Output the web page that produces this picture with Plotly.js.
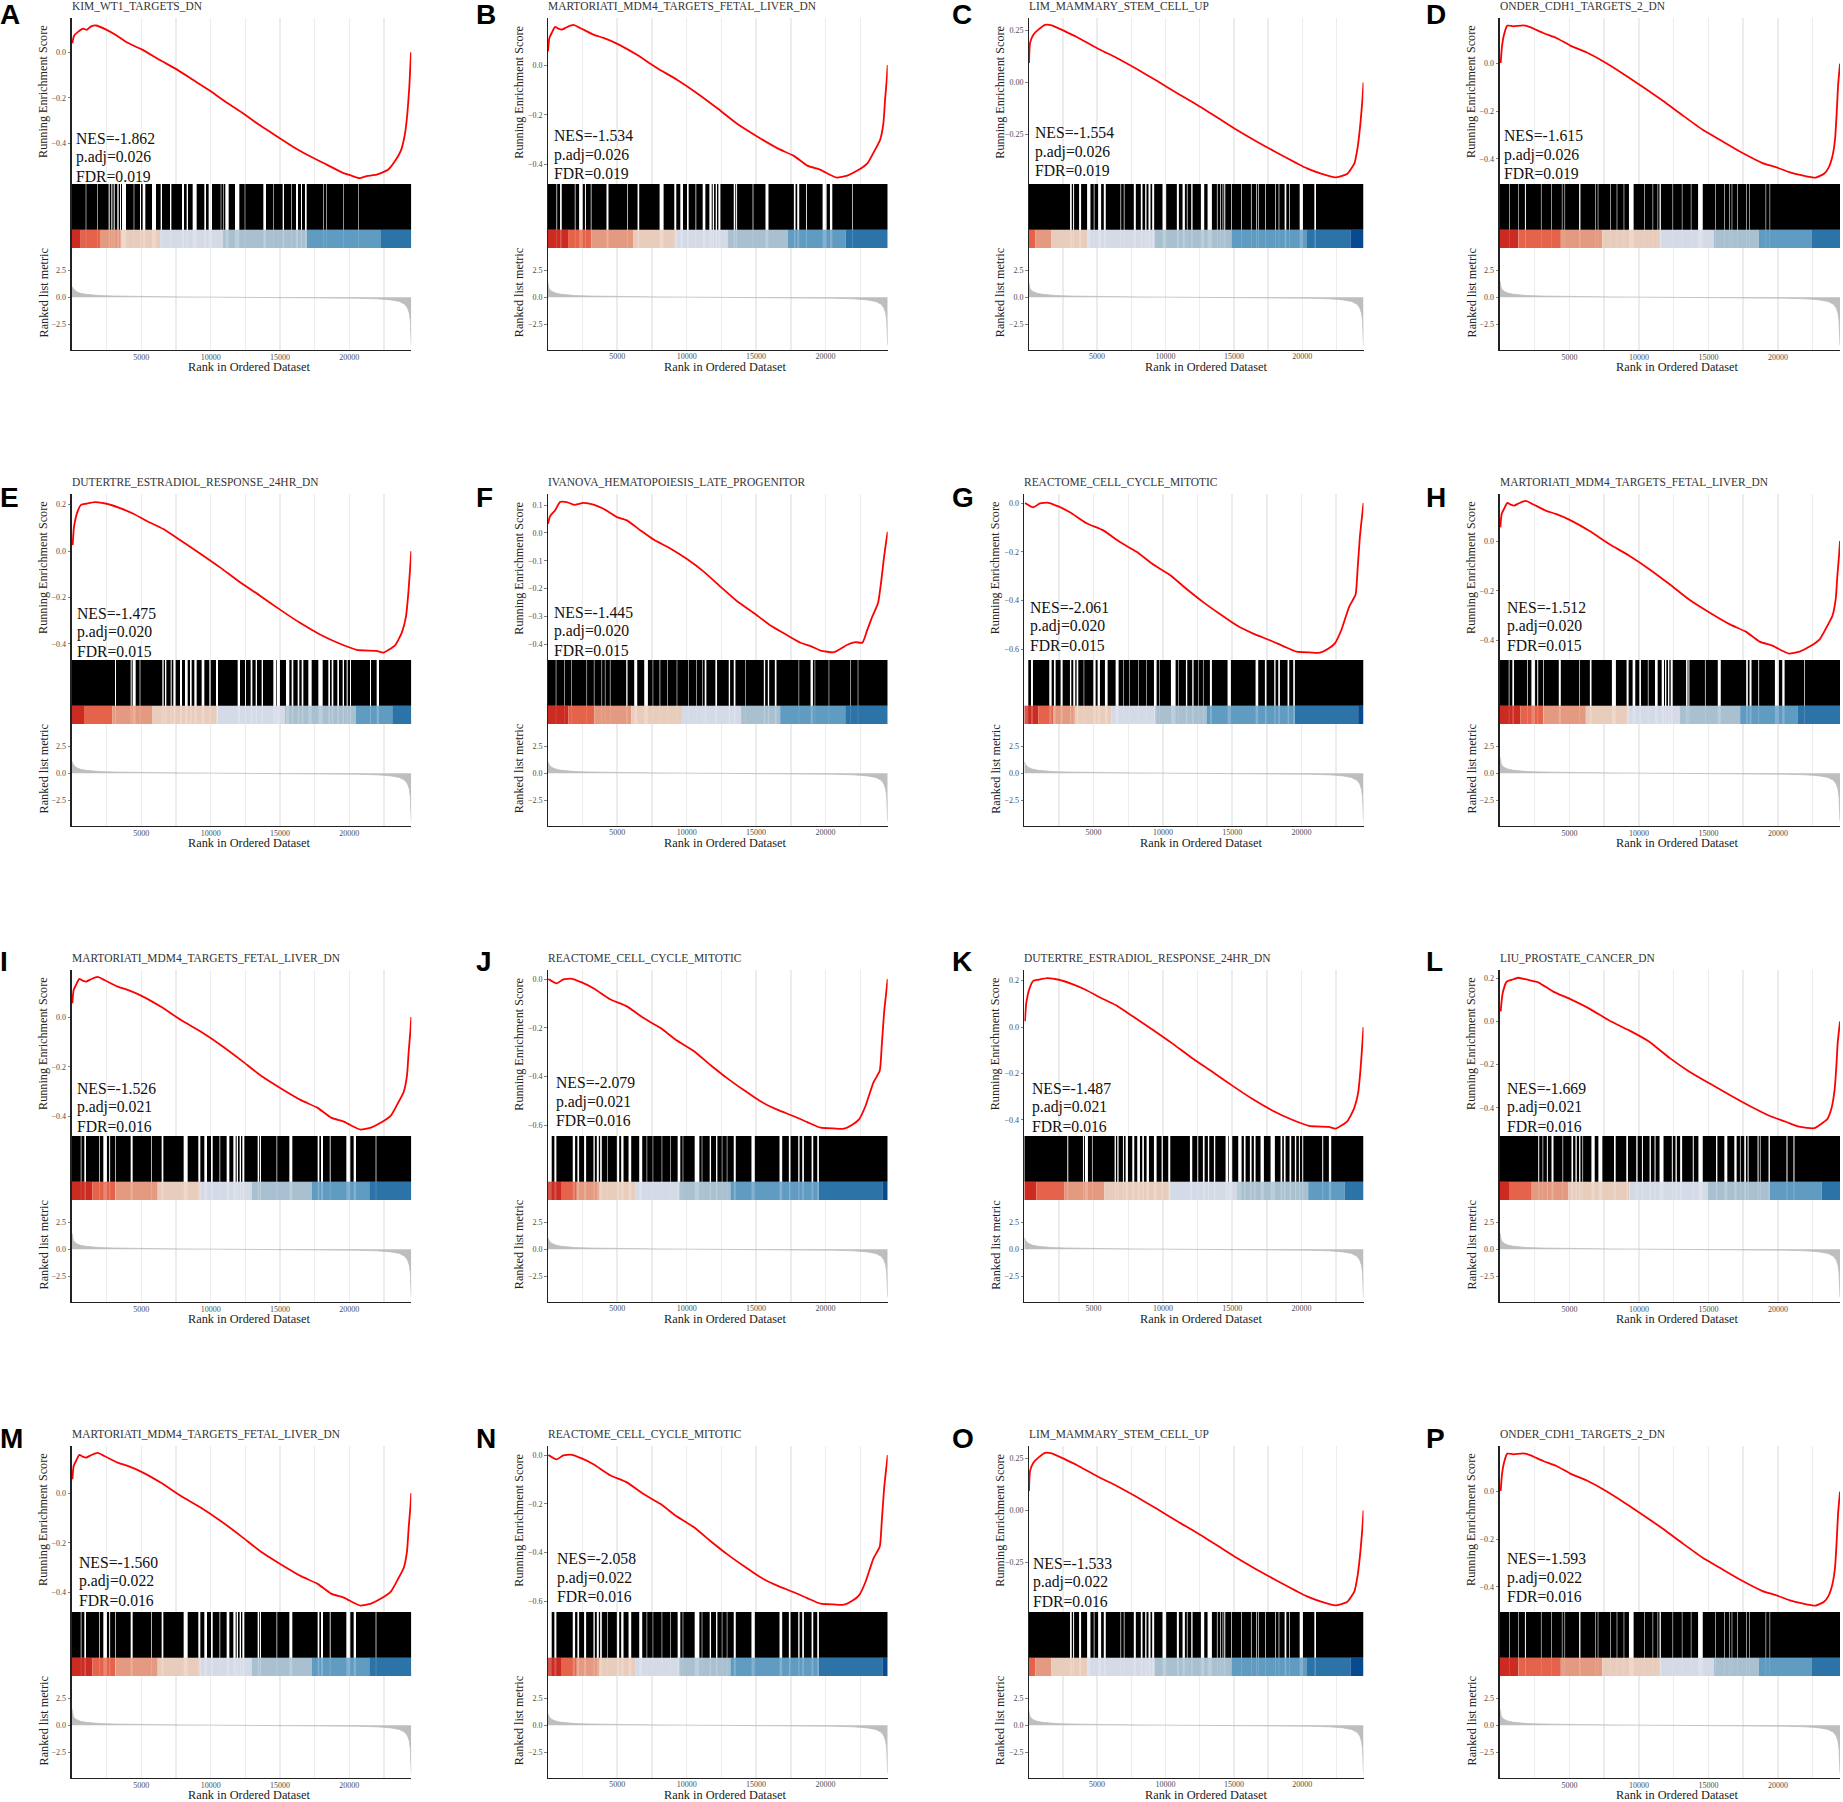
<!DOCTYPE html>
<html>
<head>
<meta charset="utf-8">
<script src="https://cdn.plot.ly/plotly-3.0.1.min.js"></script>
<style>
  html, body { margin: 0; padding: 0; background: #fff; }
</style>
</head>
<body>
<div id="chart" style="width:1843px;height:1802px"></div>
<script>
// Values.
const panelLetters = ['A','B','C','D','E','F','G','H','I','J','K','L','M','N','O','P'];
const panelNes = ['-1.862','-1.534','-1.554','-1.615','-1.475','-1.445','-2.061','-1.512','-1.526','-2.079','-1.487','-1.669','-1.560','-2.058','-1.533','-1.593'];
const panelPadj = ['0.026','0.026','0.026','0.026','0.020','0.020','0.020','0.020','0.021','0.021','0.021','0.021','0.022','0.022','0.022','0.022'];
const panelFdr = ['0.019','0.019','0.019','0.019','0.015','0.015','0.015','0.015','0.016','0.016','0.016','0.016','0.016','0.016','0.016','0.016'];
// which gene set each panel shows (index into geneSets)
const panelSet = [0,1,2,3, 4,5,6,1, 1,6,4,7, 1,6,2,3];

const kimRanks = [24,144,457,817,1058,1346,1731,2500,3221,3943,5024,6347,7549,8751,9953,11155,12357,13559,14761,15963,17165,18367,19569,20050,20723,21252,21973,22815,23296,23728,24017,24185,24329,24449];
const kimScores = [.04,.072,.091,.104,.099,.113,.118,.099,.074,.044,.013,-.034,-.075,-.122,-.169,-.221,-.269,-.321,-.369,-.416,-.457,-.494,-.531,-.54,-.553,-.544,-.538,-.515,-.478,-.431,-.357,-.269,-.151,0];
const kimGaps = [[990,1030],[1830,1870],[2644,2716],[2837,2909],[3005,3077],[3269,3366],[3462,3534],[3606,3894],[4450,4490],[4904,4976],[5096,5289],[5770,6058],[6395,6491],[7068,7164],[7933,8077],[8270,8366],[8702,8991],[9544,9664],[9856,10097],[10726,10766],[10894,10934],[11058,11299],[11756,12068],[12457,12497],[13799,13991],[14500,14540],[15193,15289],[15822,15862],[16155,16299],[16515,16587],[16803,16924],[18106,18146],[18347,18387],[19549,19589],[20630,20670]];
const kimBandEdges = [625,2019,3558,6346,10865,16923,22284,24470];

const mdmRanks = [24,120,288,529,769,1010,1370,1851,2332,3293,4015,4976,6419,7861,9303,10746,12188,13631,15073,16515,17717,18679,19641,20242,20795,21564,22285,23006,23487,23920,24160,24280,24400,24470];
const mdmScores = [.055,.109,.129,.153,.146,.142,.152,.161,.149,.122,.109,.086,.041,-.012,-.059,-.113,-.173,-.236,-.287,-.334,-.365,-.404,-.421,-.439,-.452,-.444,-.424,-.395,-.348,-.301,-.234,-.14,-.059,0];
const mdmGaps = [[630,680],[889,1010],[1950,2000],[2260,2524],[2680,2750],[3100,3150],[4231,4375],[5710,5760],[6467,6587],[8053,8342],[9111,9255],[9544,9736],[10025,10145],[10640,10690],[11155,11347],[11636,11804],[11876,11972],[12092,12188],[12284,12429],[13390,13500],[13560,13631],[14750,14800],[15674,15890],[17717,17838],[17958,18102],[18590,18650],[19785,20073],[20314,20482],[21900,21950]];
const mdmBandEdges = [1466,3125,6178,9255,12957,17284,21442,24470];

const limRanks = [24,98,341,707,1195,1683,2659,3512,4976,6439,7902,9366,10829,12293,13756,15219,16683,18146,19610,20341,21317,22414,23268,23805,24049,24244,24390,24470];
const limScores = [.093,.189,.229,.253,.276,.274,.245,.218,.165,.117,.064,.008,-.051,-.107,-.167,-.228,-.284,-.337,-.388,-.412,-.436,-.455,-.439,-.388,-.308,-.196,-.083,0];
const limGaps = [[3024,3146],[3244,3317],[3683,3829],[4268,4512],[4756,4805],[5073,5293],[5488,5634],[6707,6756],[6951,7000],[7683,7829],[8195,8317],[8512,8610],[8756,8902],[9024,9171],[9780,10049],[10829,10976],[11244,11415],[11561,11610],[11878,11976],[12585,12829],[13073,13390],[13756,13805],[14000,14049],[14171,14220],[14293,14366],[14805,14854],[15537,15585],[16244,16293],[16634,16683],[16756,16805],[17293,17341],[18024,18073],[18268,18317],[18707,18829],[19024,19073],[19805,20049],[20878,21000]];
const limBandEdges = [488,1634,4268,9195,14805,20341,23512,24470];

const onderRanks = [48,144,287,526,957,1674,2153,3110,4066,5023,6219,7415,8850,10286,11721,13156,14591,16026,17462,18897,19854,20810,21767,22724,23322,23633,23920,24111,24231,24327,24470];
const onderScores = [.003,.073,.122,.16,.157,.161,.154,.129,.108,.077,.048,.01,-.042,-.098,-.156,-.218,-.278,-.327,-.376,-.418,-.435,-.456,-.47,-.479,-.463,-.439,-.39,-.32,-.208,-.096,0];
const onderGaps = [[650,690],[1296,1336],[1794,1866],[2946,2986],[3688,3728],[4453,4493],[4644,4684],[5693,5789],[6845,6885],[7036,7076],[7945,7985],[8400,8440],[8902,8942],[9281,9616],[10385,10425],[10983,11023],[11342,11382],[11482,11577],[12418,12458],[13088,13128],[13734,13774],[14256,14591],[15480,15520],[16126,16166],[16485,16525],[16676,16716],[17083,17123],[17729,17769],[17920,17960],[19116,19156],[19403,19443]];
const onderBandEdges = [1322,4375,7356,11538,15385,18630,22452,24470];

const dutertreRanks = [48,144,385,649,1010,1659,2500,3462,4423,5385,6587,7789,9231,10674,12116,13559,15001,16443,17886,19328,20530,21973,22453,23295,23776,24088,24256,24377,24470];
const dutertreScores = [.026,.104,.168,.199,.204,.211,.204,.185,.161,.13,.095,.048,-.01,-.07,-.134,-.192,-.252,-.309,-.359,-.399,-.425,-.43,-.437,-.406,-.352,-.281,-.181,-.081,0];
const dutertreGaps = [[3101,3173],[4231,4303],[4375,4592],[4880,4928],[6515,6611],[6707,6803],[7116,7188],[7308,7476],[7789,7933],[8150,8342],[8510,8630],[8823,8991],[9352,9544],[9905,10001],[10385,10530],[11948,12116],[12477,12549],[12885,13006],[13246,13342],[13679,13775],[14520,14712],[14761,15001],[15434,15674],[15842,15962],[16275,16395],[16563,16684],[17044,17285],[17766,18078],[18487,18607],[18727,18847],[19136,19256],[19520,19617],[19809,19881],[20050,20122],[21492,21564],[21973,22141]];
const dutertreBandEdges = [865,2909,5769,10481,15361,20481,23101,24470];

const ivanovaRanks = [24,168,529,889,1370,1899,2572,3293,4015,4976,5697,6659,7620,8822,10024,11226,12429,13631,14833,16035,17237,18198,18919,19641,20603,21564,22165,22646,23006,23367,23776,24016,24208,24376,24470];
const ivanovaScores = [.033,.06,.081,.111,.111,.101,.108,.102,.087,.057,.045,.01,-.024,-.056,-.094,-.139,-.193,-.246,-.288,-.333,-.368,-.395,-.407,-.423,-.429,-.402,-.393,-.395,-.348,-.3,-.252,-.169,-.086,-.026,.004];
const ivanovaGaps = [[581,621],[1206,1246],[1711,1751],[2793,2833],[3322,3362],[3874,3914],[4115,4155],[4475,4515],[5650,5746],[6226,6443],[6948,7212],[7553,7593],[8053,8101],[8610,8650],[9284,9324],[10125,10165],[10678,10718],[11135,11175],[11299,11419],[12068,12188],[13030,13126],[13390,13511],[14212,14252],[15554,15650],[15842,15939],[16347,16467],[18058,18098],[18919,19088],[19212,19252],[20222,20262],[21785,21825],[22314,22354]];
const ivanovaBandEdges = [1490,3341,6010,9663,13918,16731,21418,24470];

const reactomeRanks = [48,649,1130,1731,2452,3293,4495,5697,6899,8101,9303,10505,11707,12909,14111,15313,16515,17717,18679,19641,20603,21324,21923,22405,22886,23439,23896,24040,24208,24470];
const reactomeScores = [0,-.018,-.001,.001,-.014,-.038,-.083,-.112,-.16,-.2,-.252,-.295,-.352,-.406,-.455,-.501,-.535,-.562,-.586,-.609,-.612,-.613,-.597,-.575,-.518,-.424,-.376,-.275,-.139,0];
const reactomeGaps = [[24,288],[481,625],[1803,1971],[2140,2260],[2620,2765],[3293,3390],[3534,3678],[3774,3894],[4283,4323],[4976,5145],[5289,5457],[5818,6010],[6587,6803],[7120,7160],[7553,7593],[8202,8242],[8803,8843],[9352,9544],[9716,9756],[10578,10914],[11087,11127],[11659,11756],[12116,12212],[12529,12569],[12889,12929],[13390,13535],[14664,14905],[16684,16876],[17357,17477],[18030,18126],[18319,18439],[18992,19112],[19400,19520]];
const reactomeBandEdges = [1010,2091,3702,6298,9423,13150,19519,24087,24470];

const liuRanks = [48,191,478,837,1316,2033,2751,3827,5023,6458,7894,9329,10764,12199,13634,15070,16505,17940,19375,20571,21528,22604,23202,23561,23872,24088,24208,24303,24470];
const liuScores = [.046,.13,.184,.192,.202,.192,.181,.138,.104,.058,.003,-.043,-.095,-.169,-.233,-.287,-.34,-.391,-.437,-.465,-.488,-.495,-.471,-.452,-.399,-.314,-.207,-.1,0];
const liuGaps = [[2751,2823],[3062,3110],[3373,3445],[3708,3851],[4497,4545],[5143,5262],[5430,5526],[5693,5789],[5932,5980],[6578,6817],[7080,7367],[8205,8324],[9090,9209],[9807,9903],[10214,10286],[10764,10860],[11123,11195],[11482,11769],[12367,12438],[12630,12726],[12965,13108],[13874,13946],[14280,14591],[15548,15644],[16146,16361],[16864,17031],[17270,17318],[17581,17701],[17820,17892],[18538,18610],[18706,18753],[19328,19423],[20619,20691],[21121,21193]];
const liuBandEdges = [649,2284,4928,9327,14952,19400,23150,24470];

// ranked list metric, same overall shape in every panel; only the peak at rank 1 differs
const metricRanks = [1,100,300,600,1000,1500,2000,3000,4000,5000,6000,8000,10000,12000,17000,19000,20500,22000,23000,23600,24000,24200,24330,24400,24440,24470];
const metricValues = [1,.8,.55,.38,.28,.2,.16,.12,.09,.07,.05,.03,.015,.005,-.01,-.04,-.08,-.14,-.24,-.38,-.65,-1,-1.5,-2.2,-3.2,-4.45];

const maxRank = 24470;
// grid every 2500, labels only on every 5000
const rankTicks = [2500,5000,7500,10000,12500,15000,17500,20000,22500];
const rankTickText = ['','5000','','10000','','15000','','20000',''];
const metricTicks = [-2.5,0,2.5];

const geneSets = [
  { name:'KIM_WT1_TARGETS_DN', ranks:kimRanks, scores:kimScores, gaps:kimGaps, bands:kimBandEdges, firstBand:0, peak:1.0, yRange:[-.579,.151], yTicks:[-.4,-.2,0], yFormat:'.1f' },
  { name:'MARTORIATI_MDM4_TARGETS_FETAL_LIVER_DN', ranks:mdmRanks, scores:mdmScores, gaps:mdmGaps, bands:mdmBandEdges, firstBand:0, peak:1.5, yRange:[-.478,.189], yTicks:[-.4,-.2,0], yFormat:'.1f' },
  { name:'LIM_MAMMARY_STEM_CELL_UP', ranks:limRanks, scores:limScores, gaps:limGaps, bands:limBandEdges, firstBand:1, peak:1.4, yRange:[-.487,.309], yTicks:[-.25,0,.25], yFormat:'.2f', left:1028.7 },
  { name:'ONDER_CDH1_TARGETS_2_DN', ranks:onderRanks, scores:onderScores, gaps:onderGaps, bands:onderBandEdges, firstBand:0, peak:1.5, yRange:[-.506,.192], yTicks:[-.4,-.2,0], yFormat:'.1f' },
  { name:'DUTERTRE_ESTRADIOL_RESPONSE_24HR_DN', ranks:dutertreRanks, scores:dutertreScores, gaps:dutertreGaps, bands:dutertreBandEdges, firstBand:0, peak:1.1, yRange:[-.469,.246], yTicks:[-.4,-.2,0,.2], yFormat:'.1f' },
  { name:'IVANOVA_HEMATOPOIESIS_LATE_PROGENITOR', ranks:ivanovaRanks, scores:ivanovaScores, gaps:ivanovaGaps, bands:ivanovaBandEdges, firstBand:0, peak:1.1, yRange:[-.457,.14], yTicks:[-.4,-.3,-.2,-.1,0,.1], yFormat:'.1f' },
  { name:'REACTOME_CELL_CYCLE_MITOTIC', ranks:reactomeRanks, scores:reactomeScores, gaps:reactomeGaps, bands:reactomeBandEdges, firstBand:0, peak:1.1, yRange:[-.643,.037], yTicks:[-.6,-.4,-.2,0], yFormat:'.1f' },
  { name:'LIU_PROSTATE_CANCER_DN', ranks:liuRanks, scores:liuScores, gaps:liuGaps, bands:liuBandEdges, firstBand:0, peak:1.5, yRange:[-.531,.238], yTicks:[-.4,-.2,0,.2], yFormat:'.1f' }
];

// Page geometry, pixels
const W = 1843;
const H = 1802;
const rowTop = [0,476,952,1428];
const colLeft = [72,547.7,1024.3,1500];
const colRight = [411.3,887.7,1363.5,1840];
const axisWidth = [1.8,1.2,1.2,1.8];
const letterX = [-1,475,951,1425];
const letterY = [15,497,962,1438];
const noteLeft = [75,553,1034,1503, 76,553,1029,1506, 76,555,1031,1506, 78,556,1032,1506];
const noteTop = [138.3,135.7,132.7,135.7, 137.3,136.3,131.3,131.3, 136.4,130.5,136.4,136.3, 134.1,130.6,135.3,130.6];

const SERIF = '"Liberation Serif", serif';
const GRID = '#ececec';
const AXIS = '#222222';
const TICK = '#4d4d4d';
const STRIP_SPLIT = 0.286;    // colour band share of the barcode strip
const bandColors = ['#cb2b21','#e5634a','#e39a80','#e8cdbd','#d5dae7','#a8c0d0','#609bc2','#2c73a8','#084a90'];

function xp(px) { return px / W; }
function yp(py) { return 1 - py / H; }
function axisKey(letter, n) { return letter + 'axis' + (n === 1 ? '' : n); }
function axisRef(letter, n) { return letter + (n === 1 ? '' : n); }

// black barcode pieces between the gaps, as one polygon trace
function hitPolygons(gaps) {
  const xs = [], ys = [];
  let start = gaps[0][0] < 50 ? gaps[0][1] : 0;
  gaps.forEach(g => {
    if (g[0] < 50) return;
    xs.push(start, g[0], g[0], start, start, null);
    ys.push(STRIP_SPLIT, STRIP_SPLIT, 1, 1, STRIP_SPLIT, null);
    start = g[1];
  });
  xs.push(start, maxRank, maxRank, start, start);
  ys.push(STRIP_SPLIT, STRIP_SPLIT, 1, 1, STRIP_SPLIT);
  return { xs, ys };
}

function gapStripes(gaps) {
  const xs = [], ys = [];
  gaps.forEach(g => {
    xs.push(g[0], g[1], g[1], g[0], g[0], null);
    ys.push(0, 0, STRIP_SPLIT, STRIP_SPLIT, 0, null);
  });
  return { xs, ys };
}

function buildPanel(i, traces, layout, annotations) {
  const set = geneSets[panelSet[i]];
  const col = i % 4;
  const top = rowTop[Math.floor(i / 4)];
  const left = set.left || colLeft[col];
  const right = colRight[col];
  const xId = i + 1;
  const yEs = 3 * i + 1, yStrip = 3 * i + 2, yMetric = 3 * i + 3;
  const xRef = axisRef('x', xId);

  traces.push({
    type: 'scatter', mode: 'lines', x: set.ranks, y: set.scores,
    xaxis: xRef, yaxis: axisRef('y', yEs),
    line: { color: '#ff0000', width: 1.8, shape: 'spline', smoothing: 0.5 }, hoverinfo: 'skip'
  });

  // colour band: one bar per band
  const edges = [0].concat(set.bands);
  traces.push({
    type: 'bar',
    x: set.bands.map((e, k) => (edges[k] + e) / 2),
    y: set.bands.map(() => STRIP_SPLIT),
    base: 0,
    width: set.bands.map((e, k) => e - edges[k]),
    marker: { color: set.bands.map((e, k) => bandColors[k + set.firstBand]), line: { width: 0 } },
    xaxis: xRef, yaxis: axisRef('y', yStrip), hoverinfo: 'skip'
  });
  const stripes = gapStripes(set.gaps);
  traces.push({
    type: 'scatter', mode: 'lines', x: stripes.xs, y: stripes.ys, fill: 'toself',
    fillcolor: 'rgba(255,255,255,0.22)', line: { width: 0 },
    xaxis: xRef, yaxis: axisRef('y', yStrip), hoverinfo: 'skip'
  });
  const hits = hitPolygons(set.gaps);
  traces.push({
    type: 'scatter', mode: 'lines', x: hits.xs, y: hits.ys, fill: 'toself',
    fillcolor: '#000000', line: { width: 0 },
    xaxis: xRef, yaxis: axisRef('y', yStrip), hoverinfo: 'skip'
  });

  traces.push({
    type: 'scatter', mode: 'lines', x: metricRanks,
    y: metricValues.map((v, k) => (k === 0 ? set.peak : v)),
    fill: 'tozeroy', fillcolor: '#bebebe', line: { color: '#bebebe', width: 0.8 },
    xaxis: xRef, yaxis: axisRef('y', yMetric), hoverinfo: 'skip'
  });

  const lw = axisWidth[col];
  layout[axisKey('x', xId)] = {
    domain: [xp(left), xp(right)], anchor: axisRef('y', yMetric), range: [0, maxRank],
    tickvals: rankTicks, ticktext: rankTickText, tickfont: { family: SERIF, size: 8, color: TICK },
    ticks: '', ticklabelshift: -2.2, ticklabelstandoff: -1,
    showline: true, linecolor: AXIS, linewidth: lw, zeroline: false,
    showgrid: true, gridcolor: GRID, gridwidth: 1.5
  };
  const yBase = {
    anchor: xRef, showline: true, linecolor: AXIS, linewidth: lw, zeroline: false, showgrid: false,
    ticks: 'outside', ticklen: 2.5, tickcolor: TICK, tickwidth: 0.7,
    tickfont: { family: SERIF, size: 8, color: TICK }
  };
  layout[axisKey('y', yEs)] = Object.assign({}, yBase, {
    domain: [yp(top + 184), yp(top + 18)], range: set.yRange,
    tickvals: set.yTicks, tickformat: set.yFormat
  });
  layout[axisKey('y', yStrip)] = Object.assign({}, yBase, {
    domain: [yp(top + 248), yp(top + 184)], range: [0, 1],
    ticks: '', showticklabels: false
  });
  layout[axisKey('y', yMetric)] = Object.assign({}, yBase, {
    domain: [yp(top + 349.5), yp(top + 248)], range: [-4.87, 4.6],
    tickvals: metricTicks, tickformat: '.1f'
  });

  const label = (text, x, y, opts) => annotations.push(Object.assign({
    text, x: xp(x), y: yp(y), xref: 'paper', yref: 'paper', showarrow: false,
    xanchor: 'left', yanchor: 'middle', borderpad: 0
  }, opts));

  label(panelLetters[i], letterX[col], letterY[Math.floor(i / 4)], {
    font: { family: '"Liberation Sans", sans-serif', size: 28, color: '#000', weight: 700 }
  });
  label(set.name, left - 1, top + 5.8, { font: { family: SERIF, size: 11.45, color: '#333' } });

  const nt = top + noteTop[i];
  const noteFont = { family: SERIF, size: 15.7, color: '#111' };
  label('NES=' + panelNes[i], noteLeft[i], nt, { font: noteFont });
  label('p.adj=' + panelPadj[i], noteLeft[i], nt + 19, { font: noteFont });
  label('FDR=' + panelFdr[i], noteLeft[i], nt + 38, { font: noteFont });

  const axisTitleFont = { family: SERIF, size: 12.2, color: '#222' };
  label('Running Enrichment Score', left - 29, top + 92, { font: axisTitleFont, textangle: -90, xanchor: 'center' });
  label('Ranked list metric', left - 29, top + 292.5, { font: axisTitleFont, textangle: -90, xanchor: 'center' });
  label('Rank in Ordered Dataset', left + 177, top + 367.3, { font: Object.assign({}, axisTitleFont, { size: 12.3 }), xanchor: 'center' });
}

function draw() {
  const traces = [];
  const annotations = [];
  const layout = {
    width: W, height: H, margin: { l: 0, r: 0, t: 0, b: 0 },
    paper_bgcolor: '#ffffff', plot_bgcolor: '#ffffff',
    showlegend: false, barmode: 'overlay', hovermode: false,
    font: { family: SERIF }
  };
  panelLetters.forEach((_, i) => buildPanel(i, traces, layout, annotations));
  layout.annotations = annotations;
  Plotly.newPlot('chart', traces, layout, { displayModeBar: false, staticPlot: true });
}

draw();
</script>
</body>
</html>
